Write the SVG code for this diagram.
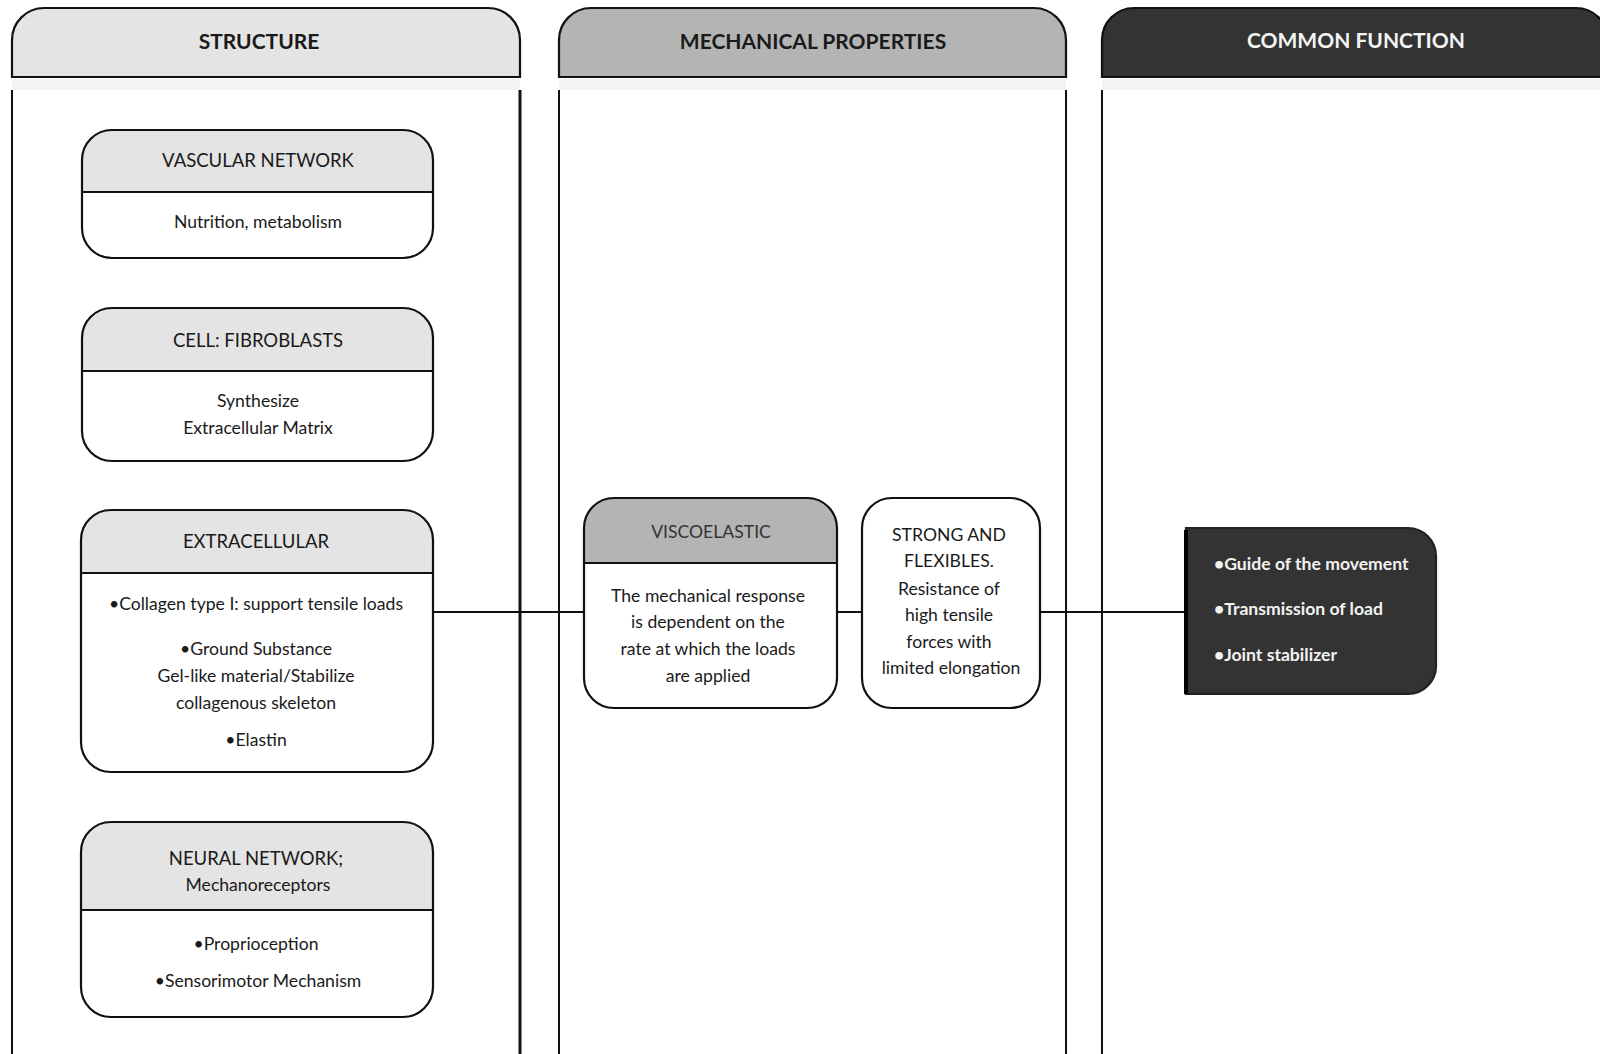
<svg xmlns="http://www.w3.org/2000/svg" width="1600" height="1054" viewBox="0 0 1600 1054">
<style>
.t{font-family:Lato,"Open Sans","Liberation Sans",sans-serif;font-size:17.6px;fill:#1a1a1a;text-anchor:middle}
.n{font-family:Lato,"Open Sans","Liberation Sans",sans-serif;font-size:18.5px;fill:#1a1a1a;text-anchor:middle}
.h{font-family:Lato,"Open Sans","Liberation Sans",sans-serif;font-size:21px;font-weight:bold;fill:#1a1a1a;text-anchor:middle}
.w{font-family:Lato,"Open Sans","Liberation Sans",sans-serif;font-size:17.6px;font-weight:bold;fill:#f2f2f2}
.hl{fill:#e4e4e4}
.hm{fill:#b4b4b4}
.hd{fill:#333}
.o{fill:none;stroke:#111;stroke-width:2.2}
.ln{stroke:#111;stroke-width:2}
.band{fill:#f4f4f4}
</style>
<rect width="1600" height="1054" fill="#fff"/>
<g id="col-structure">
<path class="hl" d="M12,77 V40 A32,32 0 0 1 44,8 H488 A32,32 0 0 1 520,40 V77 Z"/>
<path class="o" d="M12,77 V40 A32,32 0 0 1 44,8 H488 A32,32 0 0 1 520,40 V77 Z"/>
<rect class="band" x="12" y="79" width="508" height="11"/>
<line class="ln" x1="12" y1="90" x2="12" y2="1054"/>
<line class="ln" x1="520" y1="90" x2="520" y2="1054" style="stroke-width:3"/>
<text class="h" x="259" y="49">STRUCTURE</text>
</g>
<g id="col-mechanical">
<path class="hm" d="M559,77 V40 A32,32 0 0 1 591,8 H1034 A32,32 0 0 1 1066,40 V77 Z"/>
<path class="o" d="M559,77 V40 A32,32 0 0 1 591,8 H1034 A32,32 0 0 1 1066,40 V77 Z"/>
<rect class="band" x="559" y="79" width="507" height="11"/>
<line class="ln" x1="559" y1="90" x2="559" y2="1054"/>
<line class="ln" x1="1066" y1="90" x2="1066" y2="1054"/>
<text class="h" x="813" y="49">MECHANICAL PROPERTIES</text>
</g>
<g id="col-function">
<path class="hd" d="M1102,77 V40 A32,32 0 0 1 1134,8 H1576 A32,32 0 0 1 1608,40 V77 Z"/>
<path class="o" d="M1102,77 V40 A32,32 0 0 1 1134,8 H1576 A32,32 0 0 1 1608,40 V77 Z"/>
<rect class="band" x="1102" y="79" width="498" height="11"/>
<line class="ln" x1="1102" y1="90" x2="1102" y2="1054"/>
<text class="h" x="1356" y="48" style="fill:#f4f4f4">COMMON FUNCTION</text>
</g>
<g id="connectors">
<line class="ln" x1="433" y1="612" x2="584" y2="612"/>
<line class="ln" x1="837" y1="612" x2="862" y2="612"/>
<line class="ln" x1="1040" y1="612" x2="1186" y2="612"/>
</g>
<g id="vascular">
<path class="hl" d="M82,192 V160 A30,30 0 0 1 112,130 H403 A30,30 0 0 1 433,160 V192 Z"/>
<rect class="o" x="82" y="130" width="351" height="128" rx="30"/>
<line class="ln" x1="82" y1="192" x2="433" y2="192"/>
<text class="n" x="258" y="167">VASCULAR NETWORK</text>
<text class="t" x="258" y="228">Nutrition, metabolism</text>
</g>
<g id="cell">
<path class="hl" d="M82,371 V338 A30,30 0 0 1 112,308 H403 A30,30 0 0 1 433,338 V371 Z"/>
<rect class="o" x="82" y="308" width="351" height="153" rx="30"/>
<line class="ln" x1="82" y1="371" x2="433" y2="371"/>
<text class="n" x="258" y="347">CELL: FIBROBLASTS</text>
<text class="t" x="258" y="407">Synthesize</text>
<text class="t" x="258" y="434">Extracellular Matrix</text>
</g>
<g id="extracellular">
<path class="hl" d="M81,573 V540 A30,30 0 0 1 111,510 H403 A30,30 0 0 1 433,540 V573 Z"/>
<rect class="o" x="81" y="510" width="352" height="262" rx="30"/>
<line class="ln" x1="81" y1="573" x2="433" y2="573"/>
<text class="n" x="256" y="548">EXTRACELLULAR</text>
<text class="t" x="256" y="610">•Collagen type I: support tensile loads</text>
<text class="t" x="256" y="655">•Ground Substance</text>
<text class="t" x="256" y="682">Gel-like material/Stabilize</text>
<text class="t" x="256" y="709">collagenous skeleton</text>
<text class="t" x="256" y="746">•Elastin</text>
</g>
<g id="neural">
<path class="hl" d="M81,910 V852 A30,30 0 0 1 111,822 H403 A30,30 0 0 1 433,852 V910 Z"/>
<rect class="o" x="81" y="822" width="352" height="195" rx="30"/>
<line class="ln" x1="81" y1="910" x2="433" y2="910"/>
<text class="n" x="256" y="865">NEURAL NETWORK;</text>
<text class="t" x="258" y="891">Mechanoreceptors</text>
<text class="t" x="256" y="950">•Proprioception</text>
<text class="t" x="258" y="987">•Sensorimotor Mechanism</text>
</g>
<g id="viscoelastic">
<path class="hm" d="M584,563 V528 A30,30 0 0 1 614,498 H807 A30,30 0 0 1 837,528 V563 Z"/>
<rect class="o" x="584" y="498" width="253" height="210" rx="30"/>
<line class="ln" x1="584" y1="563" x2="837" y2="563"/>
<text class="t" x="711" y="538" style="fill:#333">VISCOELASTIC</text>
<text class="t" x="708" y="602">The mechanical response</text>
<text class="t" x="708" y="628">is dependent on the</text>
<text class="t" x="708" y="655">rate at which the loads</text>
<text class="t" x="708" y="682">are applied</text>
</g>
<g id="strong">
<rect class="o" x="862" y="498" width="178" height="210" rx="30" style="fill:#fff"/>
<text class="t" x="949" y="541">STRONG AND</text>
<text class="t" x="949" y="567">FLEXIBLES.</text>
<text class="t" x="949" y="595">Resistance of</text>
<text class="t" x="949" y="621">high tensile</text>
<text class="t" x="949" y="648">forces with</text>
<text class="t" x="951" y="674">limited elongation</text>
</g>
<g id="function-box">
<path class="hd" d="M1186,528 H1408 A28,28 0 0 1 1436,556 V666 A28,28 0 0 1 1408,694 H1186 Z"/>
<path class="o" d="M1186,528 H1408 A28,28 0 0 1 1436,556 V666 A28,28 0 0 1 1408,694 H1186 Z" style="stroke:#222"/>
<line x1="1186" y1="530" x2="1186" y2="694" stroke="#000" stroke-width="4"/>
<text class="w" x="1214" y="570">•Guide of the movement</text>
<text class="w" x="1214" y="615">•Transmission of load</text>
<text class="w" x="1214" y="661">•Joint stabilizer</text>
</g>
</svg>
